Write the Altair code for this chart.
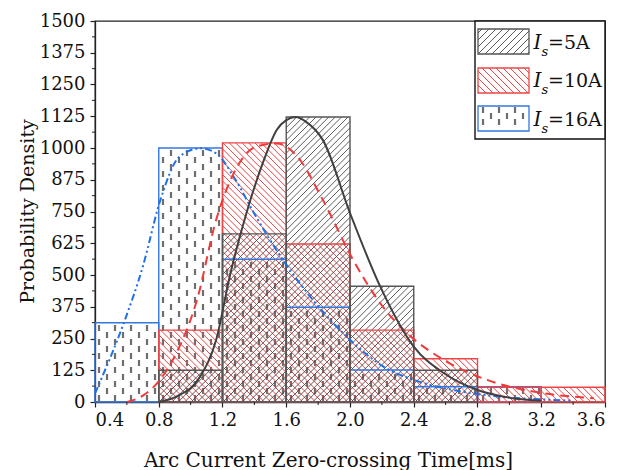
import math
import altair as alt
import pandas as pd

# ---------------- data ----------------
bin_left = [0.4, 0.8, 1.2, 1.6, 2.0, 2.4, 2.8, 3.2]
bin_right = [0.8, 1.2, 1.6, 2.0, 2.4, 2.8, 3.2, 3.6]
dens_5A = [0, 125, 662, 1122, 456, 125, 0, 0]
dens_10A = [0, 283, 1020, 622, 283, 170, 58, 58]
dens_16A = [312, 1000, 562, 373, 126, 60, 60, 0]

fit5_x = [0.80, 0.91, 1.06, 1.16, 1.25, 1.35, 1.46, 1.54, 1.60, 1.66, 1.72, 1.83, 2.00, 2.19, 2.40, 2.59, 2.80, 3.02, 3.20]
fit5_y = [0, 21, 100, 244, 507, 743, 953, 1071, 1110, 1122, 1105, 1031, 744, 454, 218, 113, 47, 15, 5]
fit10_x = [0.60, 0.70, 0.79, 0.91, 1.04, 1.16, 1.27, 1.41, 1.54, 1.67, 1.83, 2.02, 2.20, 2.36, 2.59, 2.86, 3.15, 3.53]
fit10_y = [0, 25, 74, 192, 402, 717, 900, 1005, 1018, 966, 795, 559, 380, 270, 165, 87, 41, 15]
fit16_x = [0.40, 0.58, 0.70, 0.81, 0.93, 1.06, 1.16, 1.27, 1.41, 1.58, 1.75, 2.00, 2.21, 2.40, 2.65, 2.94, 3.15, 3.40]
fit16_y = [34, 310, 533, 795, 966, 999, 979, 887, 730, 559, 415, 245, 139, 87, 47, 21, 12, 5]

y_major = [0, 125, 250, 375, 500, 625, 750, 875, 1000, 1125, 1250, 1375, 1500]
y_minor = [62.5, 187.5, 312.5, 437.5, 562.5, 687.5, 812.5, 937.5, 1062.5, 1187.5, 1312.5, 1437.5]
x_major = [0.4, 0.8, 1.2, 1.6, 2.0, 2.4, 2.8, 3.2, 3.6]
x_minor = [0.6, 1.0, 1.4, 1.8, 2.2, 2.6, 3.0, 3.4]

series_names = ["5A", "10A", "16A"]

# ---------------- style ----------------
W, H = 510, 381
XMIN, XMAX, YMAX = 0.4, 3.6, 1500
FONT = "DejaVu Serif"
C_BLACK_LINE = "#555555"
C_BLACK_HATCH = "#4a4a4a"
C_RED = "#ee4646"
C_BLUE = "#3577e0"
C_DASH = "#6e6e6e"
C_BLUE_CURVE = "#1f6fe6"
C_RED_CURVE = "#f03a3a"
C_BLACK_CURVE = "#404040"


def px2x(px):
    return XMIN + px / W * (XMAX - XMIN)


def py2y(py):  # py measured from the bottom of the plot
    return py / H * YMAX


def x2px(x):
    return (x - XMIN) / (XMAX - XMIN) * W


def y2py(y):
    return y / YMAX * H


def hatch(x0, x1, y0, y1, s, direction, off=0.0):
    segs = []
    if direction == "/":
        kmin = math.ceil((y0 - x1 - off) / s)
        kmax = math.floor((y1 - x0 - off) / s)
        for k in range(kmin, kmax + 1):
            b = k * s + off
            lo = max(x0, y0 - b)
            hi = min(x1, y1 - b)
            if hi - lo > 0.3:
                segs.append((lo, lo + b, hi, hi + b))
    else:
        kmin = math.ceil((x0 + y0 - off) / s)
        kmax = math.floor((x1 + y1 - off) / s)
        for k in range(kmin, kmax + 1):
            b = k * s + off
            lo = max(x0, b - y1)
            hi = min(x1, b - y0)
            if hi - lo > 0.3:
                segs.append((lo, b - lo, hi, b - hi))
    return segs


def dashes(x0, x1, y0, y1, cs=8.0, rs=14.0, ln=6.0):
    out = []
    c = 0
    while c * cs + 4 < 640:
        px = c * cs + 4
        if x0 + 1.5 < px < x1 - 1.5:
            r = 0
            while True:
                py = r * rs + (c % 2) * rs / 2 + 4
                if py + ln / 2 > y1 - 1:
                    break
                if py - ln / 2 > y0 + 0.5:
                    out.append((px, py - ln / 2, py + ln / 2))
                r += 1
        c += 1
    return out


def segs_df(segs):
    return pd.DataFrame({
        "x": [px2x(s[0]) for s in segs],
        "y": [py2y(s[1]) for s in segs],
        "x2": [px2x(s[2]) for s in segs],
        "y2": [py2y(s[3]) for s in segs],
    })


def dash_df(ds):
    return pd.DataFrame({
        "x": [px2x(d[0]) for d in ds],
        "y": [py2y(d[1]) for d in ds],
        "y2": [py2y(d[2]) for d in ds],
    })


# ---------------- scales / axes ----------------
xs = alt.Scale(domain=[XMIN, XMAX], nice=False, zero=False)
ys = alt.Scale(domain=[0, YMAX], nice=False, zero=False)
ax_x = alt.Axis(values=x_major, format=".1f", title="Arc Current Zero-crossing Time[ms]",
                grid=False, tickSize=5, labelPadding=4,
                labelFontSize=18, titleFontSize=20,
                titleX=233, titleY=64, titleAlign="center", titleBaseline="alphabetic")
ax_y = alt.Axis(values=y_major, format="d", title="Probability Density", grid=False,
                tickSize=5, labelPadding=5,
                labelFontSize=18, titleFontSize=19,
                titleX=-68, titleY=190, titleAlign="center", titleBaseline="middle",
                titleAngle=270)


def X(f):
    return alt.X(f, type="quantitative", scale=xs, axis=ax_x)


def Y(f):
    return alt.Y(f, type="quantitative", scale=ys, axis=ax_y)


# ---------------- bars: hatching and outlines ----------------
bars = pd.DataFrame({
    "left": bin_left * 3,
    "right": bin_right * 3,
    "val": dens_5A + dens_10A + dens_16A,
    "zero": [0] * 24,
    "series": sum([[s] * 8 for s in series_names], []),
})
bars = bars[bars["val"] > 0]

seg_black, seg_red, dash_blue = [], [], []
for l, r, v in zip(bin_left, bin_right, dens_5A):
    if v > 0:
        seg_black += hatch(x2px(l), x2px(r), 0, y2py(v), 6.4, "/")
for l, r, v in zip(bin_left, bin_right, dens_10A):
    if v > 0:
        seg_red += hatch(x2px(l), x2px(r), 0, y2py(v), 6.4, "\\", 3.0)
for l, r, v in zip(bin_left, bin_right, dens_16A):
    if v > 0:
        dash_blue += dashes(x2px(l), x2px(r), 0, y2py(v))

layers = []
layers.append(alt.Chart(dash_df(dash_blue)).mark_rule(color=C_DASH, strokeWidth=2.2).encode(
    x=X("x"), y=Y("y"), y2="y2"))
layers.append(alt.Chart(segs_df(seg_red)).mark_rule(color=C_RED, strokeWidth=1).encode(
    x=X("x"), y=Y("y"), x2="x2", y2="y2"))
layers.append(alt.Chart(segs_df(seg_black)).mark_rule(color=C_BLACK_HATCH, strokeWidth=0.9).encode(
    x=X("x"), y=Y("y"), x2="x2", y2="y2"))

outline_colors = {"16A": C_BLUE, "10A": C_RED, "5A": C_BLACK_LINE}
for s in ["16A", "10A", "5A"]:
    layers.append(alt.Chart(bars[bars["series"] == s]).mark_rect(
        fillOpacity=0, stroke=outline_colors[s], strokeWidth=1.4).encode(
        x=X("left"), x2="right", y=Y("val"), y2="zero"))

# ---------------- fitted curves ----------------
c16 = pd.DataFrame({"x": fit16_x, "y": fit16_y})
c10 = pd.DataFrame({"x": fit10_x, "y": fit10_y})
c5 = pd.DataFrame({"x": fit5_x, "y": fit5_y})
layers.append(alt.Chart(c16).mark_line(color=C_BLUE_CURVE, strokeWidth=2, interpolate="monotone",
                                       strokeDash=[7, 3, 2, 3, 2, 3]).encode(x=X("x"), y=Y("y")))
layers.append(alt.Chart(c10).mark_line(color=C_RED_CURVE, strokeWidth=2, interpolate="monotone",
                                       strokeDash=[9, 6]).encode(x=X("x"), y=Y("y")))
layers.append(alt.Chart(c5).mark_line(color=C_BLACK_CURVE, strokeWidth=2,
                                      interpolate="monotone").encode(x=X("x"), y=Y("y")))

# ---------------- legend (drawn by hand) ----------------
LB = (380, 510, 0, 118)  # pixel box, y from top
box = pd.DataFrame({"x": [px2x(LB[0])], "x2": [px2x(LB[1])],
                    "y": [py2y(H - LB[2])], "y2": [py2y(H - LB[3])]})
layers.append(alt.Chart(box).mark_rect(fill="white", stroke="#111111", strokeWidth=1.4).encode(
    x=X("x"), x2="x2", y=Y("y"), y2="y2"))

sw_tops = [8, 47, 85]
sw_h = 25
sw_x0, sw_x1 = 383, 434
sw_cols = [C_BLACK_LINE, C_RED, C_BLUE]
sw_rows = []
leg_black, leg_red, leg_dash = [], [], []
for i, t in enumerate(sw_tops):
    yb0 = H - (t + sw_h)
    yb1 = H - t
    sw_rows.append({"x": px2x(sw_x0), "x2": px2x(sw_x1), "y": py2y(yb1), "y2": py2y(yb0), "c": i})
    if i == 0:
        leg_black += hatch(sw_x0, sw_x1, yb0, yb1, 7.0, "/")
    elif i == 1:
        leg_red += hatch(sw_x0, sw_x1, yb0, yb1, 7.0, "\\")
    else:
        leg_dash += dashes(sw_x0, sw_x1, yb0, yb1, cs=8.0, rs=12.0, ln=6.0)

layers.append(alt.Chart(dash_df(leg_dash)).mark_rule(color=C_DASH, strokeWidth=2.2).encode(
    x=X("x"), y=Y("y"), y2="y2"))
layers.append(alt.Chart(segs_df(leg_red)).mark_rule(color=C_RED, strokeWidth=1).encode(
    x=X("x"), y=Y("y"), x2="x2", y2="y2"))
layers.append(alt.Chart(segs_df(leg_black)).mark_rule(color=C_BLACK_HATCH, strokeWidth=0.9).encode(
    x=X("x"), y=Y("y"), x2="x2", y2="y2"))
sw_df = pd.DataFrame(sw_rows)
for i, col in enumerate(sw_cols):
    layers.append(alt.Chart(sw_df[sw_df["c"] == i]).mark_rect(
        fillOpacity=0, stroke=col, strokeWidth=1.3).encode(
        x=X("x"), x2="x2", y=Y("y"), y2="y2"))

base_lines = [27.5, 66.3, 104.7]
txt_I = pd.DataFrame({"x": [px2x(438.5)] * 3, "y": [py2y(H - b) for b in base_lines], "t": ["I"] * 3})
txt_s = pd.DataFrame({"x": [px2x(446.5)] * 3, "y": [py2y(H - b - 7) for b in base_lines], "t": ["s"] * 3})
txt_v = pd.DataFrame({"x": [px2x(453)] * 3, "y": [py2y(H - b) for b in base_lines],
                      "t": ["=" + s for s in series_names]})
layers.append(alt.Chart(txt_I).mark_text(font=FONT, fontSize=20, fontStyle="italic", align="left",
                                         baseline="alphabetic", color="#111").encode(
    x=X("x"), y=Y("y"), text="t"))
layers.append(alt.Chart(txt_s).mark_text(font=FONT, fontSize=13, fontStyle="italic", align="left",
                                         baseline="alphabetic", color="#111").encode(
    x=X("x"), y=Y("y"), text="t"))
layers.append(alt.Chart(txt_v).mark_text(font=FONT, fontSize=19, align="left",
                                         baseline="alphabetic", color="#111").encode(
    x=X("x"), y=Y("y"), text="t"))

# ---------------- minor ticks ----------------
layers.append(alt.Chart(pd.DataFrame({"v": y_minor})).mark_rule(color="#222", strokeWidth=1).encode(
    y=Y("v"), x=alt.value(0), x2=alt.value(-3)))
layers.append(alt.Chart(pd.DataFrame({"v": x_minor})).mark_rule(color="#222", strokeWidth=1).encode(
    x=X("v"), y=alt.value(H), y2=alt.value(H + 3)))

chart = alt.layer(*layers).properties(
    width=W, height=H,
    autosize=alt.AutoSizeParams(type="none"),
    padding={"left": 95, "top": 21, "right": 15, "bottom": 68},
).configure_view(
    stroke="#222", strokeWidth=1.3
).configure_axis(
    labelFont=FONT, titleFont=FONT, labelFontSize=18,
    titleFontWeight="normal", labelColor="#111", titleColor="#111",
    domainColor="#222", tickColor="#222", domainWidth=1.3, tickWidth=1.2,
)

chart.save("out.html", embed_options={"renderer": "svg", "actions": False})
